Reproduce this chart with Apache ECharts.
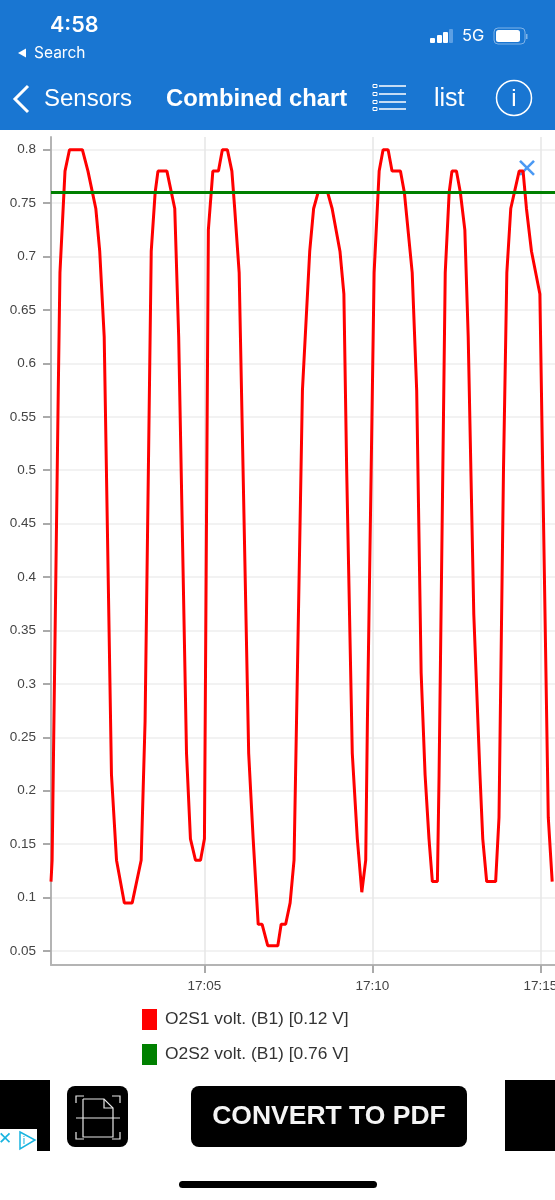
<!DOCTYPE html>
<html>
<head>
<meta charset="utf-8">
<title>Combined chart</title>
<style>
html, body { margin: 0; padding: 0; background: #fff; }
#echart { width: 555px; height: 1200px; }
</style>
<script src="https://cdn.jsdelivr.net/npm/echarts@6/dist/echarts.min.js"></script>
</head>
<body>
<div id="echart"></div>
<script>
// seconds after 17:00:00
var o2s1Seconds = [26, 28, 39, 42, 51, 59, 82, 92, 106, 113, 121, 134, 143, 157, 171, 187, 194, 205, 212, 217, 233, 247, 254, 268, 275, 284, 293, 300, 307, 315, 325, 332, 341, 349, 354, 362, 379, 387, 396, 403, 413, 431, 437, 445, 453, 460, 475, 488, 495, 503, 520, 528, 542, 549, 554, 564, 573, 581, 588, 591, 603, 612, 619, 628, 635, 650, 657, 671, 679, 687, 694, 701, 707, 716, 719, 730, 737, 742, 750, 757, 765, 771, 781, 792, 797, 804, 820, 826, 834, 840, 847, 862, 869, 875, 884, 899, 914, 921];
var o2s1Values = [0.115, 0.135, 0.575, 0.685, 0.78, 0.8, 0.8, 0.78, 0.745, 0.705, 0.625, 0.215, 0.135, 0.095, 0.095, 0.135, 0.265, 0.705, 0.76, 0.78, 0.78, 0.745, 0.625, 0.235, 0.155, 0.135, 0.135, 0.155, 0.725, 0.78, 0.78, 0.8, 0.8, 0.78, 0.745, 0.685, 0.235, 0.155, 0.075, 0.075, 0.055, 0.055, 0.075, 0.075, 0.095, 0.135, 0.575, 0.705, 0.745, 0.76, 0.76, 0.745, 0.705, 0.665, 0.5, 0.235, 0.155, 0.105, 0.135, 0.265, 0.685, 0.78, 0.8, 0.8, 0.78, 0.78, 0.76, 0.685, 0.575, 0.31, 0.215, 0.155, 0.115, 0.115, 0.215, 0.685, 0.76, 0.78, 0.78, 0.76, 0.725, 0.625, 0.365, 0.215, 0.155, 0.115, 0.115, 0.175, 0.5, 0.685, 0.745, 0.78, 0.78, 0.745, 0.705, 0.665, 0.175, 0.115];
var o2s2Seconds = [26, 926];
var o2s2Values = [0.76, 0.76];
var cursorSeconds = [876];
var cursorValues = [0.783];
var yTicks = [0.05, 0.1, 0.15, 0.2, 0.25, 0.3, 0.35, 0.4, 0.45, 0.5, 0.55, 0.6, 0.65, 0.7, 0.75, 0.8];
var xTickSeconds = [300, 600, 900];
var seriesNames = ['O2S1 volt. (B1) [0.12 V]', 'O2S2 volt. (B1) [0.76 V]'];

function pairs(secs, vals) {
    return secs.map(function (s, i) { return [s, vals[i]]; });
}
function pad(n) { return n < 10 ? '0' + n : '' + n; }

var myChart = echarts.init(document.getElementById('echart'));

var uiFont = '"Liberation Sans", Arial, sans-serif';
var white = '#ffffff';
var iconLine = { fill: 'none', stroke: '#e8e8e8', lineWidth: 1.2 };

// phone and app chrome round the chart
var chrome = [
    { type: 'rect', shape: { x: 0, y: 0, width: 555, height: 130 }, style: { fill: '#1976d2' } },
    { type: 'text', style: { x: 50, y: 26, text: '4:58', fill: white, font: '600 21.5px Inter', textVerticalAlign: 'middle' } },
    { type: 'polygon', shape: { points: [[18, 53], [26, 48.5], [26, 57.5]] }, style: { fill: white } },
    { type: 'text', style: { x: 34, y: 53, text: 'Search', fill: white, font: '15.5px Inter', textVerticalAlign: 'middle' } },
    { type: 'rect', shape: { x: 430, y: 38, width: 5, height: 5, r: 1 }, style: { fill: white } },
    { type: 'rect', shape: { x: 437, y: 35, width: 5, height: 8, r: 1 }, style: { fill: white } },
    { type: 'rect', shape: { x: 443, y: 32, width: 5, height: 11, r: 1 }, style: { fill: white } },
    { type: 'rect', shape: { x: 449, y: 29, width: 4, height: 14, r: 1 }, style: { fill: '#5c9fe3' } },
    { type: 'text', style: { x: 462, y: 36, text: '5G', fill: white, font: '16.5px Inter', textVerticalAlign: 'middle' } },
    { type: 'rect', shape: { x: 494, y: 28, width: 31, height: 16, r: 4 }, style: { fill: 'none', stroke: '#7fb3e8', lineWidth: 1 } },
    { type: 'rect', shape: { x: 496, y: 30, width: 24, height: 12, r: 2.5 }, style: { fill: white } },
    { type: 'rect', shape: { x: 526, y: 34, width: 1.5, height: 5 }, style: { fill: '#7fb3e8' } },
    { type: 'polyline', shape: { points: [[28, 86], [15, 99], [28, 112]] }, style: { fill: 'none', stroke: white, lineWidth: 3 } },
    { type: 'text', style: { x: 44, y: 99, text: 'Sensors', fill: white, font: '24px "Liberation Sans"', textVerticalAlign: 'middle' } },
    { type: 'text', style: { x: 166, y: 99, text: 'Combined chart', fill: white, font: 'bold 23.8px "Liberation Sans"', textVerticalAlign: 'middle' } },
    { type: 'text', style: { x: 434, y: 99, text: 'list', fill: white, font: '25px "Liberation Sans"', textVerticalAlign: 'middle' } },
    { type: 'circle', shape: { cx: 514, cy: 98, r: 17.5 }, style: { fill: 'none', stroke: white, lineWidth: 1.5 } },
    { type: 'text', style: { x: 514, y: 99, text: 'i', fill: white, font: '24px "Liberation Sans"', textAlign: 'center', textVerticalAlign: 'middle' } }
];
[86, 94, 102, 109].forEach(function (y) {
    chrome.push({ type: 'rect', shape: { x: 373, y: y - 1.5, width: 4, height: 3 }, style: { fill: 'none', stroke: white, lineWidth: 1 } });
    chrome.push({ type: 'line', shape: { x1: 379, y1: y, x2: 406, y2: y }, style: { stroke: white, lineWidth: 1.5 } });
});

// banner at the bottom
var banner = [
    { type: 'rect', shape: { x: 0, y: 1080, width: 50, height: 71 }, style: { fill: '#000' } },
    { type: 'rect', shape: { x: 505, y: 1080, width: 50, height: 71 }, style: { fill: '#000' } },
    { type: 'rect', shape: { x: 0, y: 1129, width: 37, height: 22 }, style: { fill: white } },
    { type: 'text', style: { x: 5, y: 1140, text: '✕', fill: '#18b4e0', font: '17px "DejaVu Sans"', textAlign: 'center', textVerticalAlign: 'middle' } },
    { type: 'polygon', shape: { points: [[20, 1132], [35, 1140], [20, 1149]] }, style: { fill: white, stroke: '#18b4e0', lineWidth: 1.5 } },
    { type: 'text', style: { x: 24, y: 1141, text: 'i', fill: '#18b4e0', font: '11px "Liberation Sans"', textAlign: 'center', textVerticalAlign: 'middle' } },
    { type: 'rect', shape: { x: 67, y: 1086, width: 61, height: 61, r: 8 }, style: { fill: '#000' } },
    { type: 'polyline', shape: { points: [[83, 1099], [104, 1099], [113, 1108], [113, 1137], [83, 1137], [83, 1099]] }, style: iconLine },
    { type: 'polyline', shape: { points: [[104, 1099], [104, 1108], [113, 1108]] }, style: iconLine },
    { type: 'line', shape: { x1: 76, y1: 1118, x2: 120, y2: 1118 }, style: { stroke: '#e8e8e8', lineWidth: 1.2 } },
    { type: 'polyline', shape: { points: [[76, 1103], [76, 1096], [84, 1096]] }, style: iconLine },
    { type: 'polyline', shape: { points: [[112, 1096], [120, 1096], [120, 1103]] }, style: iconLine },
    { type: 'polyline', shape: { points: [[76, 1132], [76, 1139], [84, 1139]] }, style: iconLine },
    { type: 'polyline', shape: { points: [[112, 1139], [120, 1139], [120, 1132]] }, style: iconLine },
    { type: 'rect', shape: { x: 191, y: 1086, width: 276, height: 61, r: 8 }, style: { fill: '#000' } },
    { type: 'text', style: { x: 329, y: 1117, text: 'CONVERT TO PDF', fill: '#f4f4f4', font: 'bold 26.5px "Liberation Sans"', textAlign: 'center', textVerticalAlign: 'middle' } },
    { type: 'rect', shape: { x: 179, y: 1181, width: 198, height: 7, r: 3.5 }, style: { fill: '#000' } }
];

option = {
    animation: false,
    backgroundColor: '#fff',
    textStyle: { fontFamily: uiFont },
    grid: { left: 51, right: 0, top: 137, bottom: 235, outerBoundsMode: 'none' },
    xAxis: {
        type: 'value',
        min: 26,
        max: 926,
        axisLine: { lineStyle: { color: '#b4b4b4', width: 2 } },
        axisTick: { length: 8, lineStyle: { color: '#aaaaaa', width: 2 }, customValues: xTickSeconds },
        splitLine: { show: true, lineStyle: { color: '#e6e6e6', width: 1.5 } },
        axisLabel: {
            customValues: xTickSeconds,
            color: '#444',
            fontSize: 13.5,
            fontFamily: uiFont,
            margin: 14,
            hideOverlap: false,
            formatter: function (v) {
                return '17:' + pad(Math.round(v / 60));
            }
        }
    },
    yAxis: {
        type: 'value',
        min: 0.0369,
        max: 0.8119,
        axisLine: { show: true, lineStyle: { color: '#b4b4b4', width: 2 } },
        axisTick: { show: true, length: 8, lineStyle: { color: '#aaaaaa', width: 2 }, customValues: yTicks },
        splitLine: { show: true, lineStyle: { color: '#eeeeee', width: 1.5 } },
        axisLabel: {
            customValues: yTicks,
            color: '#444',
            fontSize: 13.5,
            fontFamily: uiFont,
            margin: 15,
            formatter: function (v) { return String(v); }
        }
    },
    legend: {
        orient: 'vertical',
        left: 142,
        top: 1009,
        itemWidth: 15,
        itemHeight: 21,
        itemGap: 14,
        icon: 'rect',
        selectedMode: false,
        padding: 0,
        textStyle: { color: '#333', fontSize: 17.4, fontFamily: uiFont, padding: [0, 0, 0, 3] },
        data: seriesNames
    },
    series: [
        {
            name: seriesNames[0],
            type: 'line',
            showSymbol: false,
            color: '#ff0000',
            lineStyle: { color: '#ff0000', width: 3 },
            data: pairs(o2s1Seconds, o2s1Values)
        },
        {
            name: seriesNames[1],
            type: 'line',
            showSymbol: false,
            color: '#008000',
            lineStyle: { color: '#008000', width: 3 },
            data: pairs(o2s2Seconds, o2s2Values)
        },
        {
            type: 'scatter',
            symbol: 'path://M0 0L10 10M10 0L0 10',
            symbolSize: 14,
            itemStyle: { color: 'none', borderColor: '#1e7ff0', borderWidth: 2.6 },
            data: pairs(cursorSeconds, cursorValues)
        }
    ],
    graphic: { elements: chrome.concat(banner) }
};

myChart.setOption(option);
</script>
</body>
</html>
